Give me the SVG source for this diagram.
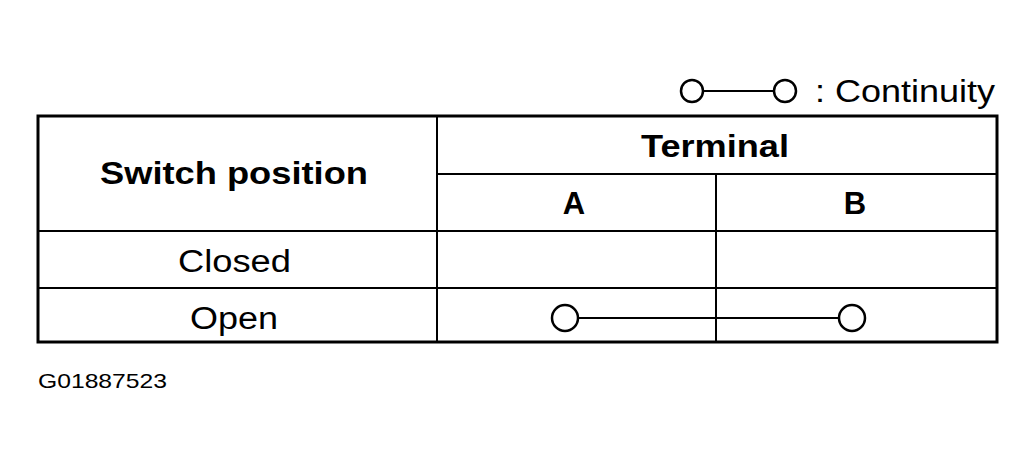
<svg xmlns="http://www.w3.org/2000/svg" width="1036" height="463" viewBox="0 0 1036 463">
<style>
text{font-family:"Liberation Sans",Arial,sans-serif;fill:#000}
.b{font-weight:bold;font-size:31px}
.n{font-size:31px}
.l{stroke:#000;stroke-width:2;fill:none}
.c{stroke:#000;stroke-width:2.5;fill:#fff}
</style>
<rect width="1036" height="463" fill="#fff"/>
<g id="legend">
<line class="l" x1="703" y1="91" x2="774" y2="91"/>
<circle class="c" cx="692" cy="91" r="11"/>
<circle class="c" cx="785" cy="91" r="11"/>
<text class="n" x="815" y="102" font-size="30" textLength="180" lengthAdjust="spacingAndGlyphs">: Continuity</text>
</g>
<g id="table">
<rect x="38" y="116" width="959" height="226" fill="none" stroke="#000" stroke-width="3"/>
<line class="l" x1="437" y1="174" x2="997" y2="174"/>
<line class="l" x1="38" y1="231" x2="997" y2="231"/>
<line class="l" x1="38" y1="288" x2="997" y2="288"/>
<line class="l" x1="437" y1="116" x2="437" y2="342"/>
<line class="l" x1="716" y1="174" x2="716" y2="342"/>
<text class="b" x="100" y="184" textLength="268" lengthAdjust="spacingAndGlyphs">Switch position</text>
<text class="b" x="641" y="157" textLength="148" lengthAdjust="spacingAndGlyphs">Terminal</text>
<text class="b" x="574" y="214" text-anchor="middle">A</text>
<text class="b" x="855" y="214" text-anchor="middle">B</text>
<text class="n" x="178" y="272" textLength="113" lengthAdjust="spacingAndGlyphs">Closed</text>
<text class="n" x="190" y="329" textLength="88" lengthAdjust="spacingAndGlyphs">Open</text>
</g>
<g id="connectors">
<line class="l" x1="578" y1="318" x2="839" y2="318"/>
<circle class="c" cx="565" cy="318" r="13"/>
<circle class="c" cx="852" cy="318" r="13"/>
</g>
<text x="38" y="388" font-size="21" textLength="129" lengthAdjust="spacingAndGlyphs">G01887523</text>
</svg>
